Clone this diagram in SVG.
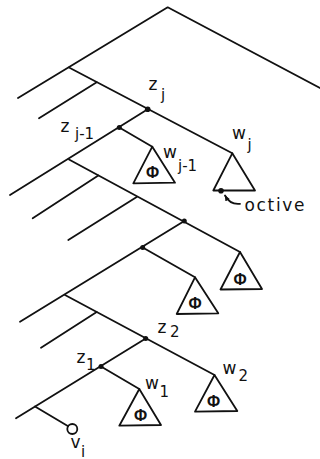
<svg xmlns="http://www.w3.org/2000/svg" width="320" height="459" viewBox="0 0 320 459">
<style>
.e{stroke:#111;stroke-width:1.8;fill:none;stroke-linecap:round;stroke-linejoin:round}
.t{stroke:#111;stroke-width:1.8;fill:#fff;stroke-linejoin:round}
.d{fill:#111}
.l{font-family:"DejaVu Sans","Liberation Sans",sans-serif;font-size:17px;fill:#111}
.s{font-family:"DejaVu Sans","Liberation Sans",sans-serif;font-size:15px;fill:#111}
.p{font-family:"Liberation Sans","DejaVu Sans",sans-serif;font-size:16px;font-weight:bold;fill:#111;text-anchor:middle}
</style>
<defs>
<marker id="ah" viewBox="0 0 10 10" refX="9" refY="5" markerUnits="userSpaceOnUse" markerWidth="6" markerHeight="6" orient="auto">
<path d="M0,1 L10,5 L0,9 z" fill="#111"/>
</marker>
</defs>
<g id="connectors">
<path class="e" d="M18,98 L167.7,7.3 L322,89"/>
<path class="e" d="M69,67.5 L232.3,153.3"/>
<path class="e" d="M96.7,82.3 L39,118.3"/>
<path class="e" d="M147.7,109.3 L10,195"/>
<path class="e" d="M119.3,127.5 L152.3,146.7"/>
<path class="e" d="M69,159.5 L240,252"/>
<path class="e" d="M98.3,175.5 L32.7,218.3"/>
<path class="e" d="M136.7,197 L68.3,240"/>
<path class="e" d="M184.3,221 L20,321.7"/>
<path class="e" d="M142.7,247.5 L195,277.3"/>
<path class="e" d="M65,295 L214.5,375"/>
<path class="e" d="M96.7,312 L41,347.7"/>
<path class="e" d="M145.7,338.5 L16,418.3"/>
<path class="e" d="M101,366.5 L139.3,389"/>
<path class="e" d="M35,406.5 L68.2,426.2"/>
<path class="e" d="M240,203.8 C234,204.5 228.5,202 225,195.5" marker-end="url(#ah)" stroke-width="1.4"/>
</g>
<g id="z_j"><circle class="d" cx="147.7" cy="109.3" r="2.8"/><text class="l" x="148.5" y="90">z</text><text class="s" x="161" y="100">j</text></g>
<g id="z_j-1"><circle class="d" cx="119.3" cy="127.5" r="2.5"/><text class="l" x="60.5" y="131.5">z</text><text class="s" x="75" y="138.5">j-1</text></g>
<g id="w_j-1"><path class="t" d="M152.3,146.7 L133.3,183.3 L175,182.7 Z"/><text class="p" x="152.5" y="177.5">Φ</text><text class="l" x="163" y="157.5">w</text><text class="s" x="178" y="170.5">j-1</text></g>
<g id="w_j"><path class="t" d="M232.3,153.3 L213.3,190.5 L255,190.5 Z"/><text class="l" x="232" y="138.5">w</text><text class="s" x="247.5" y="150">j</text></g>
<g id="active"><circle class="d" cx="221" cy="190.7" r="2.8"/><text class="l" x="244.5" y="210.5" textLength="60" lengthAdjust="spacing">octive</text></g>
<g id="n3"><circle class="d" cx="184.3" cy="221" r="2.5"/></g>
<g id="n4"><circle class="d" cx="142.7" cy="247.5" r="2.5"/></g>
<g id="t3"><path class="t" d="M240,252 L220.5,289.5 L262,289 Z"/><text class="p" x="240" y="284.5">Φ</text></g>
<g id="t4"><path class="t" d="M195,277.3 L176.7,314 L218.3,313.3 Z"/><text class="p" x="195" y="309">Φ</text></g>
<g id="z_2"><circle class="d" cx="145.7" cy="338.5" r="2.5"/><text class="l" x="157.5" y="333">z</text><text class="s" x="170" y="337">2</text></g>
<g id="w_2"><path class="t" d="M214.5,375 L195,411.7 L237.3,411 Z"/><text class="p" x="213.5" y="407">Φ</text><text class="l" x="222.5" y="373.5">w</text><text class="s" x="238.5" y="380.5">2</text></g>
<g id="z_1"><circle class="d" cx="101" cy="366.5" r="2.5"/><text class="l" x="76.5" y="363">z</text><text class="s" x="86" y="370">1</text></g>
<g id="w_1"><path class="t" d="M139.3,389 L119.3,425.7 L161,425 Z"/><text class="p" x="140.5" y="421">Φ</text><text class="l" x="145" y="388.5">w</text><text class="s" x="159.5" y="396.5">1</text></g>
<g id="v_i"><circle class="e" cx="72.3" cy="429" r="5"/><text class="l" x="70.5" y="448">v</text><text class="s" x="81" y="456.5">i</text></g>
</svg>
